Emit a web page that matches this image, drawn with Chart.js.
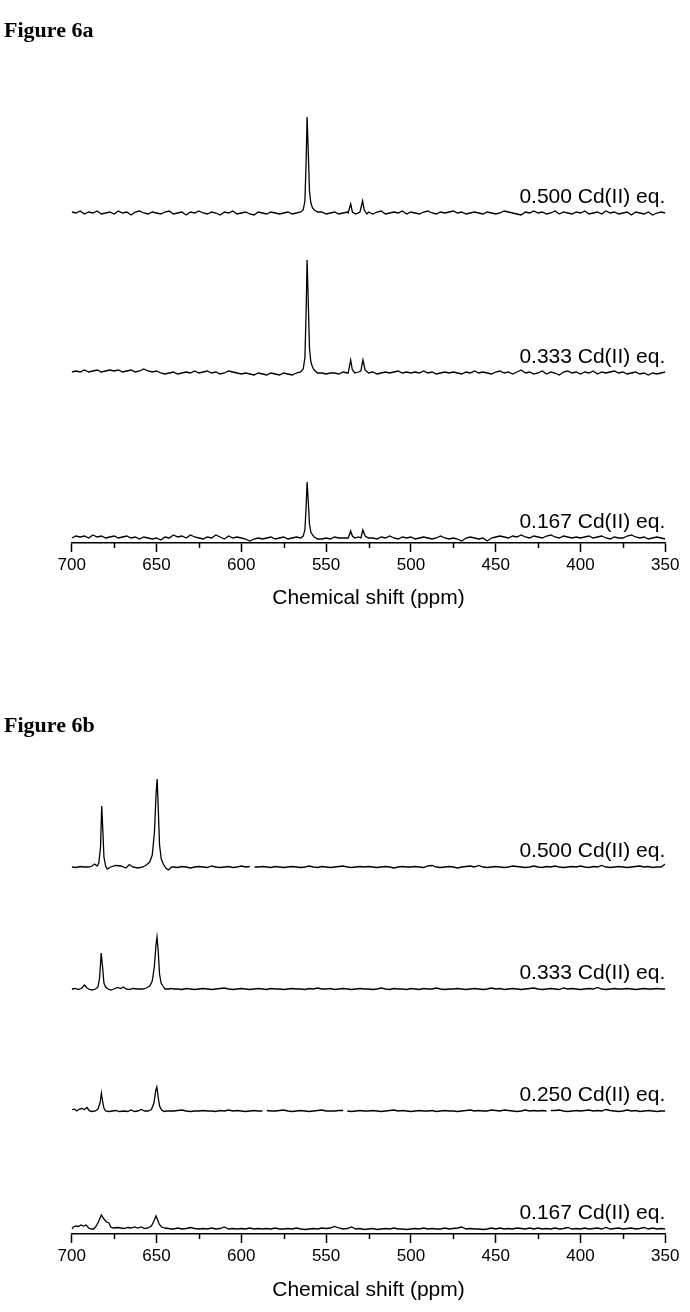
<!DOCTYPE html>
<html>
<head>
<meta charset="utf-8">
<script src="https://cdn.jsdelivr.net/npm/chart.js@4.4.1/dist/chart.umd.min.js"></script>
<style>
  body { margin: 0; background: #fff; width: 690px; height: 1312px; position: relative; overflow: hidden; }
  .fig { position: absolute; left: 4px; z-index: 2; font: bold 22px "Liberation Serif", "Times New Roman", serif; line-height: 24px; color: #000; }
  canvas { position: absolute; left: 0; }
  #c1 { top: 0; }
  #c2 { top: 640px; }
</style>
</head>
<body>
<div class="fig" style="top:18px">Figure 6a</div>
<canvas id="c1" width="690" height="620"></canvas>
<div class="fig" style="top:713px">Figure 6b</div>
<canvas id="c2" width="690" height="672"></canvas>

<script>
// eixo x: deslocamento químico (ppm), amostrado a cada 2.5 ppm
const ppm = [];
for (let v = 700; v >= 350; v -= 2.5) ppm.push(v);

// ---------- Figura 6a ----------
const labels6a = ["0.500 Cd(II) eq.", "0.333 Cd(II) eq.", "0.167 Cd(II) eq."];
const offsets6a = [330, 170, 5];

// ruído da linha de base (um valor por ponto de ppm)
const ruido6a_500 = [
  1,0,2,-1,1,0,2,-1,0,1,
  -1,2,0,1,-2,1,2,0,-1,1,
  0,-1,1,2,-1,0,1,-2,1,0,
  2,0,-1,1,0,-2,1,0,2,-1,
  0,1,-1,-2,1,0,-1,1,0,-1,
  0,1,-1,0,2,0,1,0,0,1,
  -1,0,1,-1,0,1,2,0,0,-2,
  0,-1,1,2,-1,0,1,0,2,-1,
  1,0,-1,1,2,0,-1,1,0,1,
  2,0,1,-1,0,1,0,-1,1,0,
  -1,0,2,1,0,-1,-2,1,0,2,
  0,1,-1,0,2,-1,1,0,-1,1,
  0,2,-1,0,1,-1,2,0,1,-1,
  0,1,-2,1,0,-1,1,-2,0,1,
  0
];
const ruido6a_333 = [
  1,2,1,3,1,2,3,1,2,3,
  2,3,1,2,3,1,2,4,2,1,
  2,0,-1,0,1,-1,0,1,0,2,
  0,1,2,0,1,-1,0,2,1,0,
  -1,0,-1,-2,0,-1,-2,0,-1,-2,
  0,-1,-2,0,-1,1,0,0,0,0,
  -1,0,0,-1,1,0,0,0,0,0,
  0,1,-1,0,1,0,1,2,0,1,
  0,1,0,2,0,1,-1,0,1,0,
  1,0,-1,1,0,2,0,1,0,-1,
  1,2,0,1,-1,1,3,0,1,-1,
  0,2,-1,1,0,-2,1,2,0,1,
  -1,1,0,2,-1,1,0,1,2,0,
  1,-1,0,1,-1,0,-2,0,-1,0,
  1
];
const ruido6a_167 = [
  0,2,1,2,0,3,1,2,0,1,
  2,0,1,2,0,1,-1,1,0,-1,
  0,-2,1,0,3,1,2,0,3,1,
  0,-1,1,0,3,1,-1,2,0,1,
  0,-1,-3,-1,0,-1,0,1,-1,0,
  1,-1,0,1,0,0,0,0,0,-1,
  0,-1,1,0,0,0,0,0,0,0,
  1,0,-1,1,0,2,0,-1,1,0,
  1,-1,0,1,0,-1,0,2,0,-1,
  0,-1,-3,0,1,0,-1,0,-3,0,
  1,2,1,0,2,1,3,1,0,2,
  1,0,2,3,1,0,2,1,0,1,
  0,1,2,0,1,2,0,-1,1,0,
  0,2,3,1,0,1,-1,0,1,0,
  -1
];

// picos [ppm, intensidade]
const picos6a_500 = [
  [[565,1],[563.5,3],[562.5,12],[561.8,50],[561.2,96],[560.5,60],[559.8,22],[559,10],[558,5],[557,3],[555,1]],
  [[537,0],[535.5,9],[534.5,1],[532.5,-1],[530,1],[528.5,12],[527.5,3],[526,-1],[525,1]]
];
const picos6a_333 = [
  [[565,1],[563.5,4],[562.5,15],[561.8,60],[561.2,113],[560.5,70],[559.8,25],[559,11],[558,6],[557,3],[555,0]],
  [[537,0],[535.5,13],[534.5,3],[533,0],[531,1],[529.5,2],[528.3,13],[527,3],[525,0]]
];
const picos6a_167 = [
  [[565,0],[563.5,2],[562.5,8],[561.8,30],[561.2,56],[560.5,36],[559.8,14],[559,6],[558,3],[557,1],[555,-1]],
  [[537,0],[535.5,7],[534.5,2],[533,0],[531,1],[529.5,0],[528.3,8],[527,2],[525,0]]
];

// ---------- Figura 6b ----------
const labels6b = ["0.500 Cd(II) eq.", "0.333 Cd(II) eq.", "0.250 Cd(II) eq.", "0.167 Cd(II) eq."];
const offsets6b = [367, 245, 123, 5];

const ruido6b_500 = [
  0,-0.5,0.5,0,0,0,0,0,0,0,
  0,0,0,0,0,0,0,0,0,0,
  0,0,0,0,0,-0.5,0.5,0,-1,0,
  0.5,0,-0.5,1,0,-0.5,0,0.5,-0.5,0,
  1,0,-0.5,0,0,0.5,0,-0.5,0.5,0,
  -0.5,0,0.5,0,-0.5,0,1,0,-0.5,0.5,
  0,-0.5,0,0.5,1,0,-0.5,0,0.5,0,
  0.5,0,-0.5,0,0.5,0,-1,0,0.5,0,
  0,0.5,0,-0.5,1,1.5,0,-0.5,0,0.5,
  0,-1,0,0.5,1,0,1.5,0,-0.5,0,
  0.5,0,-0.5,0,1,0.5,0,-0.5,0,1,
  0,-0.5,0.5,0,1,0,-0.5,0,0.5,0,
  1,0,-0.5,0.5,0,1.5,0,-0.5,0,0.5,
  0,-0.5,0,0.5,1,0,0.5,-0.5,0,0,
  3
];
const ruido6b_333 = [
  0,0,0,0,0,0,0,0,0,0,
  0,0,0,0,0,0,0,0,0,0,
  0,0,0,0,0,0,-0.5,0.5,0,-0.5,
  0,0.5,0,-0.5,0,0.5,1,0,-0.5,0,
  0.5,0,-0.5,0,0.5,0,-0.5,0.5,0,0,
  -0.5,0,0.5,0,0,-0.5,0.5,0,1,0,
  0,0.5,-0.5,0,0.5,0,-0.5,0,0.5,0,
  0,-0.5,0,1,0,-0.5,0.5,0,0,-0.5,
  0.5,0,-0.5,0.5,0,0,1,0,-0.5,0,
  0,0.5,0,-0.5,0,0.5,0,-0.5,0,1,
  0,0.5,-0.5,0,0.5,0,-0.5,0,0.5,1,
  0,-0.5,0,0.5,0,-0.5,1,0,0.5,0,
  -0.5,0,0.5,0,1.5,0,-0.5,0,0.5,0,
  0,0.5,0,-0.5,0,0.5,0,0,0.5,0,
  0
];
const ruido6b_250 = [
  0,0,0,0,0,0,0,0,0,0,
  0,0,0,0,0,0,0,0,0,0,
  0,0,0,0,0,0.5,1,0,-0.5,0,
  0,0.5,0,0,-0.5,0.5,0,1,0,0.5,
  0,-0.5,0,0.5,0,1,0.5,0,0,0.5,
  1,0,-0.5,0,0.5,0,-0.5,0,0.5,1,
  0,0,0,0.5,1,0,-0.5,0,0.5,0,
  0,0.5,0,-0.5,0,0.5,1,0,0.5,0,
  -0.5,0,0.5,0,0,0.5,-0.5,0,0.5,0,
  0,-0.5,0,0.5,1,0,0.5,0,0,1,
  0.5,0,1,0.5,0,-0.5,0,1,0,0.5,
  0,0.5,0,0,0.5,1,0,-0.5,0,0.5,
  0,0.5,1,0,0.5,0,1.5,0.5,0,-0.5,
  0,1,0,0.5,-0.5,0,0.5,0,-0.5,0,
  0
];
const ruido6b_167 = [
  0,0,0,0,0,0,0,0,0,0,
  0,0,0,0,0,0,0,0,0,0,
  0,0,0,0,0,1,0,0.5,1.5,0.5,
  0,0.5,0,1,0,0.5,2,0,0.5,0,
  0.5,0,1,0,0.5,0,0.5,0,1,0,
  0,0.5,0,1,0,-0.5,0,0.5,0,1,
  0.5,1,2.5,1,0,0.5,2,0,0.5,-0.5,
  0,0.5,-0.5,0,0.5,0,1,0,0,-0.5,
  0,0.5,0,1,0,0.5,0,0,1,0,
  0.5,1,2,0,0.5,0,0,-0.5,0,1,
  0,1,0,0.5,0,1,0.5,0,1,0,
  1,0,0.5,0,1,0,0.5,1.5,0,0.5,
  0,1,0,0.5,1,0,1.5,0,0.5,1,
  0,0.5,1,0,0.5,1.5,0,1,0,0.5,
  0
];

// picos e pequenas falhas do traço (null = falha)
const picos6b_500 = [
  [[690,0],[688,1],[686.5,3],[685,1],[684,4],[683,20],[682.3,61],[681.6,35],[681,10],[680,1],[679,-2],[677,0],
   [674,1.5],[671,1],[668,-1],[666,2.5],[664,0],[661,-1],[658,0],[656,2],[654,5],[652.5,12],[651.2,35],
   [650.2,75],[649.6,88],[649,60],[648.2,22],[647.2,8],[646,3],[644.5,-1],[643,-3],[641,0],[640,0]],
  [[595,0.5],[593.6,null],[592.2,0]]
];
const picos6b_333 = [
  [[700,0],[698,0.5],[696,-0.5],[694,1],[692.5,4],[691,1],[689.5,-0.5],[688,-1],[686,0],[684.5,2],[683.5,12],
   [682.6,36],[681.8,22],[681,6],[680,2],[678.5,0],[677,-1],[675,0],[673,1.5],[671,0.5],[669.5,2],[668,0],
   [666,-0.5],[664,0.5],[661,0],[658,0],[656,1],[654,3],[652.5,8],[651.3,22],[650.3,44],[649.7,52],[649,38],
   [648.2,15],[647.3,6],[646.2,3],[645,0],[643,0],[641,0.5],[640,0]]
];
const picos6b_250 = [
  [[700,1],[698.5,2],[697,0],[695.5,2],[694,2.5],[692.5,1.5],[691,3.5],[689.5,0],[688,-0.5],[686,0],[684.5,2],
   [683.3,8],[682.5,18],[681.8,10],[681,3],[680,0],[678,-0.5],[676,0],[674,0.5],[672,-0.5],[669,0],[667,-0.5],
   [665,1],[663,-0.5],[661,0],[659,1.5],[657,0],[655,0],[653,1.5],[651.5,8],[650.5,20],[649.8,24],[649,14],
   [648.2,5],[647,1],[645.5,-0.5],[644,0],[642,0],[640,0]],
  [[587.5,0],[586.2,null],[585,0.5]],
  [[540,0.5],[538.8,null],[537.5,0]],
  [[420,0],[418.8,null],[417.5,0.5]]
];
const picos6b_167 = [
  [[700,0],[699,2],[697.5,3],[696,2.5],[694.5,4],[693,3],[691.5,4],[690,1],[688.5,0],[687,0],[685.5,3],[684,8],
   [682.5,14],[681,10],[679.5,7],[678,6],[677,2],[675.5,1],[673,1.5],[671,1],[669,0.5],[667,1.5],[665,1],[663,2],
   [661,1],[659,2],[657,0.5],[655,1],[653,3],[651.5,8],[650.3,13],[649.5,10],[648.5,5],[647,2],[645,1],
   [643,0.5],[641,0],[640,0]]
];

// junta ruído + picos e desloca a curva verticalmente
function montarCurva(ruido, picos, deslocamento) {
  const pts = [];
  ppm.forEach((x, i) => {
    const dentro = picos.some(p => x <= p[0][0] && x >= p[p.length - 1][0]);
    if (!dentro) pts.push({ x: x, y: ruido[i] + deslocamento });
  });
  picos.forEach(p => p.forEach(([x, v]) => pts.push({ x: x, y: v === null ? null : v + deslocamento })));
  pts.sort((a, b) => b.x - a.x);
  return pts;
}

const fonte = '"Liberation Sans", Arial, sans-serif';

// rótulos das curvas + ticks menores (a cada 25 ppm)
const rotulos = {
  id: 'rotulos',
  afterDraw(chart, args, opts) {
    const { ctx, scales: { x, y } } = chart;
    ctx.save();
    ctx.strokeStyle = '#000';
    ctx.lineWidth = 1.5;
    [675, 625, 575, 525, 475, 425, 375].forEach(v => {
      const px = Math.round(x.getPixelForValue(v)) + 0.5;
      ctx.beginPath();
      ctx.moveTo(px, x.top);
      ctx.lineTo(px, x.top + 5);
      ctx.stroke();
    });
    ctx.font = '21px ' + fonte;
    ctx.fillStyle = '#000';
    ctx.textAlign = 'right';
    ctx.textBaseline = 'middle';
    opts.textos.forEach((t, i) => {
      ctx.fillText(t, x.getPixelForValue(350), y.getPixelForValue(opts.deslocamentos[i]) - 16);
    });
    ctx.restore();
  }
};

function criarGrafico(id, curvas, textos, deslocamentos, yMax, alturaX) {
  const ctx = document.getElementById(id).getContext('2d');
  return new Chart(ctx, {
    type: 'line',
    data: {
      datasets: curvas.map((c, i) => ({
        label: textos[i],
        data: c,
        borderColor: '#000',
        borderWidth: 1.3,
        pointRadius: 0,
        tension: 0,
        fill: false
      }))
    },
    options: {
      responsive: false,
      animation: false,
      layout: { padding: { left: 71.7, right: 24.7, top: 60, bottom: 0 } },
      plugins: {
        legend: { display: false },
        tooltip: { enabled: false },
        rotulos: { textos: textos, deslocamentos: deslocamentos }
      },
      scales: {
        x: {
          type: 'linear',
          reverse: true,
          min: 350,
          max: 700,
          afterFit: s => { s.height = alturaX; },
          ticks: {
            stepSize: 50,
            color: '#000',
            padding: 3,
            maxRotation: 0,
            autoSkip: false,
            font: { family: fonte, size: 17 }
          },
          grid: { drawOnChartArea: false, drawTicks: true, tickLength: 9, tickWidth: 1.5, tickColor: '#000' },
          border: { display: true, color: '#000', width: 1.5 },
          title: {
            display: true,
            text: 'Chemical shift (ppm)',
            color: '#000',
            font: { family: fonte, size: 21 },
            padding: { top: 0, bottom: 9.4 }
          }
        },
        y: { display: false, min: 0, max: yMax }
      }
    },
    plugins: [rotulos]
  });
}

criarGrafico('c1', [
  montarCurva(ruido6a_500, picos6a_500, offsets6a[0]),
  montarCurva(ruido6a_333, picos6a_333, offsets6a[1]),
  montarCurva(ruido6a_167, picos6a_167, offsets6a[2])
], labels6a, offsets6a, 483, 77);

criarGrafico('c2', [
  montarCurva(ruido6b_500, picos6b_500, offsets6b[0]),
  montarCurva(ruido6b_333, picos6b_333, offsets6b[1]),
  montarCurva(ruido6b_250, picos6b_250, offsets6b[2]),
  montarCurva(ruido6b_167, picos6b_167, offsets6b[3])
], labels6b, offsets6b, 534, 78);
</script>
</body>
</html>
